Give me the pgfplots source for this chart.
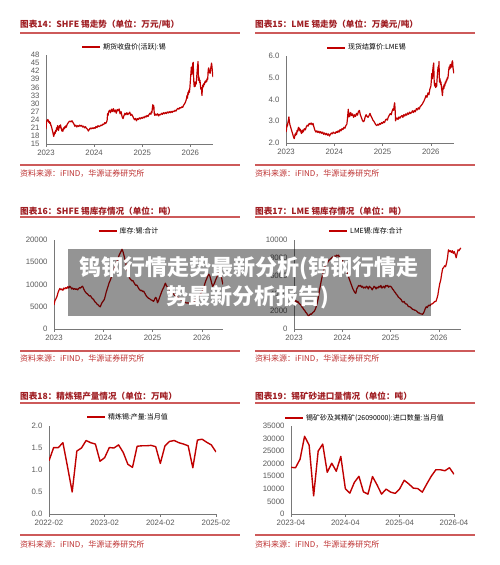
\documentclass[border=0pt]{standalone}
\usepackage{pgfplots}
\pgfplotsset{compat=1.18}
\usepackage{fontspec}
\setmainfont{Liberation Sans}
\newfontfamily\cjk{Noto Sans CJK SC}
\definecolor{linered}{RGB}{192,0,0}
\definecolor{titlered}{RGB}{160,30,35}
\definecolor{rulered}{RGB}{205,90,90}
\definecolor{srcred}{RGB}{190,50,50}
\definecolor{axgray}{RGB}{120,120,120}
\definecolor{tickgray}{RGB}{90,90,90}
\pgfplotsset{
  panel/.style={
    scale only axis,
    anchor=south west,
    axis x line*=bottom, axis y line*=left,
    axis line style={draw=axgray, line width=0.8pt},
    tick label style={font=\fontsize{7.8}{8}\selectfont, text=tickgray},
    /pgf/number format/assume math mode=true,
    ytick style={draw=none},
    xtick style={draw=axgray, line width=0.6pt},
    tick align=outside, major tick length=3pt,
    scaled ticks=false,
    legend style={draw=none, fill=none, font=\cjk\fontsize{7}{8}\selectfont, inner sep=0pt, anchor=center},
    legend cell align=left,
    legend image code/.code={\draw[#1, line width=2pt] (0pt,0pt) -- (18pt,0pt);},
    every axis plot post/.append style={line width=1.2pt, color=linered, line join=round, mark=none},
  }
}
\begin{document}
\begin{tikzpicture}[x=1pt,y=1pt]
\useasboundingbox[fill=white] (0,0) rectangle (500,565);

% ---------- titles / rules / sources ----------
\tikzset{ttl/.style={anchor=west, inner sep=0pt, text=titlered, font=\cjk\bfseries\fontsize{8.6}{9}\selectfont},
         src/.style={anchor=west, inner sep=0pt, text=srcred, font=\cjk\fontsize{8}{9}\selectfont}}
\node[ttl] at (20,540) {图表14：SHFE 锡走势（单位：万元/吨）};
\node[ttl] at (255,540) {图表15：LME 锡走势（单位：万美元/吨）};
\node[ttl] at (20,354) {图表16：SHFE 锡库存情况（单位：吨）};
\node[ttl] at (255,354) {图表17：LME 锡库存情况（单位：吨）};
\node[ttl] at (20,169) {图表18：精炼锡产量情况（单位：万吨）};
\node[ttl] at (255,169) {图表19：锡矿砂进口量情况（单位：吨）};
\foreach \yy in {532,348,162} {
  \draw[rulered, line width=1.6pt] (20,\yy) -- (240,\yy);
  \draw[rulered, line width=1.6pt] (255,\yy) -- (475,\yy);
}
\foreach \yy in {400,214,30} {
  \draw[rulered, line width=1.2pt] (20,\yy) -- (240,\yy);
  \draw[rulered, line width=1.2pt] (255,\yy) -- (475,\yy);
}
\foreach \yy in {391,206,20} {
  \node[src] at (20,\yy) {资料来源：iFIND，华源证券研究所};
  \node[src] at (255,\yy) {资料来源：iFIND，华源证券研究所};
}

% ---------- Panel 1: SHFE tin price ----------
\begin{axis}[panel, at={(46pt,421pt)}, width=167pt, height=89pt,
  xmin=0, xmax=3.47, ymin=15, ymax=48,
  ytick={15,18,...,48}, xtick={0,1,2,3}, xticklabels={2023,2024,2025,2026},
  legend style={at={(0.47,1.09)}}]
\addplot coordinates {(0.00,20.5) (0.01,22.8) (0.02,23.9) (0.03,23.6) (0.04,24.1) (0.05,23.5) (0.06,23.0) (0.07,23.4) (0.08,22.6) (0.09,22.9) (0.10,22.0) (0.11,21.6) (0.12,21.0) (0.13,20.2) (0.14,19.5) (0.15,18.6) (0.16,17.8) (0.17,18.5) (0.18,19.4) (0.19,18.9) (0.20,20.0) (0.21,19.6) (0.22,21.0) (0.23,20.3) (0.24,21.8) (0.25,20.6) (0.26,20.0) (0.27,21.2) (0.28,21.8) (0.29,21.0) (0.30,22.1) (0.31,21.3) (0.32,20.6) (0.33,19.8) (0.34,20.5) (0.35,19.7) (0.36,20.4) (0.37,21.0) (0.38,20.6) (0.39,21.4) (0.40,21.0) (0.41,21.7) (0.42,21.2) (0.44,22.3) (0.46,22.8) (0.48,23.3) (0.50,23.5) (0.52,23.2) (0.54,23.6) (0.56,23.0) (0.58,22.4) (0.60,21.6) (0.62,22.0) (0.64,21.3) (0.66,21.8) (0.68,21.5) (0.70,22.0) (0.72,21.6) (0.74,21.9) (0.76,21.3) (0.78,21.6) (0.80,21.0) (0.82,21.4) (0.84,20.8) (0.86,20.5) (0.88,19.8) (0.90,20.4) (0.92,20.9) (0.94,20.6) (0.96,21.0) (0.98,20.7) (1.00,21.1) (1.02,20.8) (1.04,21.5) (1.06,21.1) (1.08,21.8) (1.10,21.4) (1.12,21.6) (1.14,22.0) (1.16,21.8) (1.18,22.4) (1.20,22.2) (1.22,22.9) (1.24,22.6) (1.26,23.2) (1.27,23.8) (1.28,26.2) (1.29,25.6) (1.30,26.8) (1.32,27.5) (1.34,26.6) (1.36,27.9) (1.38,27.0) (1.40,28.1) (1.42,26.9) (1.44,27.6) (1.46,26.4) (1.48,27.8) (1.50,27.3) (1.52,28.0) (1.54,26.2) (1.56,27.0) (1.58,25.2) (1.60,24.4) (1.62,25.5) (1.64,26.4) (1.66,25.8) (1.68,26.6) (1.70,25.9) (1.72,26.3) (1.74,26.8) (1.76,25.6) (1.78,26.0) (1.80,25.4) (1.82,24.6) (1.84,24.0) (1.86,24.5) (1.88,23.6) (1.90,24.4) (1.92,24.1) (1.94,24.7) (1.96,24.3) (1.98,24.8) (2.00,24.5) (2.02,25.0) (2.04,24.7) (2.06,25.3) (2.08,25.0) (2.10,25.6) (2.12,25.2) (2.14,25.9) (2.16,26.4) (2.18,26.0) (2.19,27.0) (2.20,26.6) (2.21,28.2) (2.22,29.6) (2.23,28.0) (2.24,29.2) (2.25,26.3) (2.26,25.6) (2.28,26.1) (2.30,25.7) (2.32,26.2) (2.34,25.4) (2.36,26.0) (2.38,25.8) (2.40,26.4) (2.42,26.0) (2.44,26.6) (2.46,26.2) (2.48,26.7) (2.50,26.3) (2.52,26.9) (2.54,26.5) (2.56,27.0) (2.58,26.6) (2.60,27.1) (2.62,26.7) (2.64,27.2) (2.66,27.0) (2.68,27.5) (2.70,27.2) (2.72,27.8) (2.74,28.2) (2.76,27.9) (2.78,28.5) (2.80,28.3) (2.82,28.8) (2.84,28.6) (2.86,29.4) (2.88,29.9) (2.90,30.6) (2.92,31.8) (2.93,33.0) (2.94,32.0) (2.95,34.2) (2.96,33.4) (2.97,35.0) (2.98,34.2) (2.99,36.0) (3.00,38.5) (3.01,41.0) (3.02,43.5) (3.03,40.8) (3.04,42.6) (3.05,44.9) (3.06,45.3) (3.065,41.0) (3.07,38.4) (3.08,36.2) (3.09,37.9) (3.10,36.4) (3.11,38.0) (3.12,37.2) (3.13,39.5) (3.14,41.8) (3.15,44.0) (3.16,45.6) (3.165,41.5) (3.17,38.6) (3.18,39.8) (3.19,37.8) (3.20,38.6) (3.21,36.4) (3.22,35.2) (3.23,36.0) (3.24,33.0) (3.25,35.6) (3.26,36.9) (3.27,36.2) (3.28,37.4) (3.29,37.0) (3.30,37.9) (3.31,38.3) (3.32,37.8) (3.33,38.6) (3.34,38.2) (3.35,39.3) (3.36,39.0) (3.37,42.4) (3.38,43.2) (3.39,41.5) (3.40,42.3) (3.41,41.2) (3.42,42.8) (3.43,43.8) (3.44,45.0) (3.45,43.5) (3.46,41.0) (3.47,39.8)};
\addlegendentry{期货收盘价(活跃):锡}
\end{axis}

% ---------- Panel 2: LME tin price ----------
\begin{axis}[panel, at={(286pt,422pt)}, width=168pt, height=87pt,
  xmin=0, xmax=3.48, ymin=2, ymax=6,
  ytick={2,3,4,5,6}, yticklabel style={/pgf/number format/.cd, fixed, fixed zerofill, precision=1},
  xtick={0,1,2,3}, xticklabels={2023,2024,2025,2026},
  legend style={at={(0.482,1.095)}}]
\addplot coordinates {(0.00,2.50) (0.01,2.62) (0.02,2.85) (0.03,2.78) (0.04,2.95) (0.05,3.05) (0.06,3.20) (0.07,2.98) (0.08,2.85) (0.09,2.78) (0.10,2.70) (0.11,2.62) (0.12,2.55) (0.13,2.48) (0.14,2.40) (0.15,2.32) (0.16,2.25) (0.17,2.20) (0.18,2.30) (0.19,2.42) (0.20,2.35) (0.21,2.48) (0.22,2.40) (0.23,2.58) (0.24,2.52) (0.25,2.65) (0.26,2.72) (0.27,2.60) (0.28,2.68) (0.29,2.55) (0.30,2.62) (0.31,2.50) (0.32,2.44) (0.33,2.56) (0.34,2.48) (0.35,2.60) (0.36,2.52) (0.38,2.66) (0.40,2.60) (0.42,2.74) (0.44,2.82) (0.46,2.78) (0.48,2.90) (0.50,2.86) (0.52,2.92) (0.54,2.84) (0.56,2.90) (0.58,2.72) (0.60,2.58) (0.62,2.50) (0.64,2.56) (0.66,2.48) (0.68,2.54) (0.70,2.46) (0.72,2.52) (0.74,2.44) (0.76,2.50) (0.78,2.40) (0.80,2.46) (0.82,2.38) (0.84,2.44) (0.86,2.36) (0.88,2.42) (0.90,2.32) (0.92,2.40) (0.94,2.46) (0.96,2.42) (0.98,2.50) (1.00,2.46) (1.02,2.44) (1.04,2.52) (1.06,2.48) (1.08,2.56) (1.10,2.50) (1.12,2.62) (1.14,2.56) (1.16,2.66) (1.18,2.62) (1.20,2.72) (1.22,2.68) (1.24,2.80) (1.26,2.86) (1.27,3.05) (1.28,3.30) (1.29,3.55) (1.30,3.20) (1.31,3.38) (1.32,3.22) (1.34,3.40) (1.36,3.26) (1.38,3.34) (1.40,3.18) (1.42,3.30) (1.44,3.22) (1.46,3.36) (1.48,3.28) (1.50,3.44) (1.52,3.50) (1.54,3.30) (1.56,3.18) (1.58,3.05) (1.60,2.98) (1.62,3.02) (1.64,3.20) (1.66,3.30) (1.68,3.22) (1.70,3.18) (1.72,3.26) (1.74,3.36) (1.76,3.24) (1.78,3.16) (1.80,3.05) (1.82,3.00) (1.84,2.92) (1.86,2.84) (1.88,2.80) (1.90,2.86) (1.92,2.82) (1.94,2.90) (1.96,2.86) (1.98,2.94) (2.00,2.90) (2.02,2.98) (2.04,2.94) (2.06,3.05) (2.08,3.10) (2.10,3.05) (2.12,3.20) (2.14,3.28) (2.16,3.35) (2.18,3.30) (2.20,3.48) (2.22,3.58) (2.23,3.50) (2.24,3.72) (2.25,3.85) (2.26,3.55) (2.27,3.02) (2.28,3.10) (2.30,3.15) (2.32,3.08) (2.34,3.20) (2.36,3.14) (2.38,3.22) (2.40,3.26) (2.42,3.18) (2.44,3.30) (2.46,3.24) (2.48,3.34) (2.50,3.28) (2.52,3.38) (2.54,3.32) (2.56,3.42) (2.58,3.36) (2.60,3.40) (2.62,3.48) (2.64,3.40) (2.66,3.50) (2.68,3.44) (2.70,3.58) (2.72,3.52) (2.74,3.62) (2.76,3.56) (2.78,3.68) (2.80,3.72) (2.82,3.78) (2.84,3.86) (2.86,3.94) (2.88,4.05) (2.90,4.18) (2.92,4.10) (2.94,4.30) (2.96,4.22) (2.98,4.48) (3.00,4.60) (3.01,4.85) (3.02,5.20) (3.03,4.95) (3.04,5.35) (3.05,5.55) (3.06,5.68) (3.065,5.15) (3.07,4.80) (3.08,4.62) (3.09,4.75) (3.10,4.55) (3.11,4.70) (3.12,4.60) (3.13,4.95) (3.14,5.25) (3.15,5.50) (3.16,5.30) (3.17,5.75) (3.175,5.05) (3.18,4.80) (3.19,4.95) (3.20,4.70) (3.21,4.80) (3.22,4.55) (3.23,4.40) (3.24,4.18) (3.25,4.45) (3.26,4.62) (3.27,4.50) (3.28,4.70) (3.29,4.62) (3.30,4.80) (3.31,4.75) (3.32,4.90) (3.33,4.85) (3.34,5.00) (3.35,4.95) (3.36,5.10) (3.37,5.35) (3.38,5.50) (3.39,5.40) (3.40,5.60) (3.41,5.45) (3.42,5.62) (3.43,5.50) (3.44,5.72) (3.45,5.78) (3.46,5.45) (3.47,5.30) (3.48,5.20)};
\addlegendentry{现货结算价:LME锡}
\end{axis}

% ---------- Panel 3: SHFE inventory ----------
\begin{axis}[panel, at={(54pt,236pt)}, width=169pt, height=89pt,
  xmin=0, xmax=3.43, ymin=0, ymax=20000,
  ytick={0,5000,10000,15000,20000}, yticklabel style={/pgf/number format/.cd, fixed, 1000 sep={}},
  xtick={0,1,2,3}, xticklabels={2023,2024,2025,2026},
  legend style={at={(0.444,1.10)}}]
\addplot coordinates {(0.00,5400) (0.02,6400) (0.04,6800) (0.06,7300) (0.08,8100) (0.10,8700) (0.12,9100) (0.14,8800) (0.16,9000) (0.18,8700) (0.20,9200) (0.22,9000) (0.24,9300) (0.26,9100) (0.28,9500) (0.30,9200) (0.32,9600) (0.34,9400) (0.36,9000) (0.38,9200) (0.40,8900) (0.42,9100) (0.44,8900) (0.46,9000) (0.48,8800) (0.50,9100) (0.52,9300) (0.54,9200) (0.56,9500) (0.58,9600) (0.60,9100) (0.62,8600) (0.64,8300) (0.66,8000) (0.68,7900) (0.70,7600) (0.72,7400) (0.74,7500) (0.76,7100) (0.78,6800) (0.80,6700) (0.82,6300) (0.84,6000) (0.86,5800) (0.88,5500) (0.90,5400) (0.92,5100) (0.94,5000) (0.96,5600) (0.98,6000) (1.00,6300) (1.02,6600) (1.04,7400) (1.06,8300) (1.08,9000) (1.10,9700) (1.12,10400) (1.14,10900) (1.16,11500) (1.18,12300) (1.20,12800) (1.22,13300) (1.24,14100) (1.26,14700) (1.28,15300) (1.30,15900) (1.32,16500) (1.34,17000) (1.36,17400) (1.38,17900) (1.40,17400) (1.42,16500) (1.44,15600) (1.46,14600) (1.48,13500) (1.50,12600) (1.52,11900) (1.54,11300) (1.56,11100) (1.58,10800) (1.60,10900) (1.62,10500) (1.64,10100) (1.66,9800) (1.68,9900) (1.70,9500) (1.72,9100) (1.74,8800) (1.76,8600) (1.78,8700) (1.80,8400) (1.82,8500) (1.84,8100) (1.86,7700) (1.88,7300) (1.90,7100) (1.92,6900) (1.94,6800) (1.96,6600) (1.98,6500) (2.00,6400) (2.02,6200) (2.04,6600) (2.06,7100) (2.08,6900) (2.10,5900) (2.12,6300) (2.14,7000) (2.16,7600) (2.18,8200) (2.20,8800) (2.22,9200) (2.24,9700) (2.26,10300) (2.28,9800) (2.30,9400) (2.32,9100) (2.34,8900) (2.36,8600) (2.38,8400) (2.40,8200) (2.42,8000) (2.44,7700) (2.46,7500) (2.48,7400) (2.50,7300) (2.52,7000) (2.54,6900) (2.56,6600) (2.58,6500) (2.60,6400) (2.62,6200) (2.64,6100) (2.66,6000) (2.68,5900) (2.70,5800) (2.72,5900) (2.74,5800) (2.76,5700) (2.78,5900) (2.80,5800) (2.82,6000) (2.84,6200) (2.86,6400) (2.88,6700) (2.90,7000) (2.92,7300) (2.94,7500) (2.96,7700) (2.98,8000) (3.00,8300) (3.02,8800) (3.04,9400) (3.06,10100) (3.08,10800) (3.10,11300) (3.12,11900) (3.14,12300) (3.16,12000) (3.18,11200) (3.20,10300) (3.22,9600) (3.24,9900) (3.26,10400) (3.28,11000) (3.30,11500) (3.32,12100) (3.34,12600) (3.36,12300) (3.38,12700) (3.40,11600) (3.42,10400) (3.43,10000)};
\addlegendentry{库存:锡:合计}
\end{axis}

% ---------- Panel 4: LME inventory ----------
\begin{axis}[panel, at={(294pt,236pt)}, width=167pt, height=89pt,
  xmin=0, xmax=3.46, ymin=0, ymax=10000,
  ytick={0,2000,4000,6000,8000,10000}, yticklabel style={/pgf/number format/.cd, fixed, 1000 sep={}},
  xtick={0,1,2,3}, xticklabels={2023,2024,2025,2026},
  legend style={at={(0.434,1.10)}}]
\addplot coordinates {(0.00,3000) (0.02,3100) (0.04,3200) (0.06,3000) (0.08,3100) (0.10,2900) (0.12,2800) (0.14,2700) (0.16,2500) (0.18,2400) (0.20,2200) (0.22,2100) (0.24,1900) (0.26,1800) (0.28,1600) (0.30,1500) (0.32,1550) (0.34,1700) (0.36,1650) (0.38,1800) (0.40,1900) (0.42,2000) (0.44,2200) (0.46,2500) (0.48,2900) (0.50,3400) (0.52,4100) (0.54,4700) (0.56,5300) (0.58,5800) (0.60,6300) (0.62,6700) (0.64,7000) (0.66,7200) (0.68,7400) (0.70,7500) (0.72,7700) (0.74,7800) (0.76,7900) (0.78,8000) (0.80,8100) (0.82,8000) (0.84,8200) (0.86,8100) (0.88,8300) (0.90,8200) (0.92,8300) (0.94,8100) (0.96,8000) (0.98,7900) (1.00,7800) (1.02,7500) (1.04,7200) (1.06,6900) (1.08,6700) (1.10,6400) (1.12,6000) (1.14,5700) (1.16,5400) (1.18,5100) (1.20,4800) (1.22,4500) (1.24,4300) (1.26,4100) (1.28,4000) (1.30,4500) (1.32,4700) (1.34,4900) (1.36,4800) (1.38,4900) (1.40,4700) (1.42,4800) (1.44,4600) (1.46,4700) (1.48,4600) (1.50,4800) (1.52,4700) (1.54,4500) (1.56,4800) (1.58,4700) (1.60,4600) (1.62,4400) (1.64,4600) (1.66,4800) (1.68,4700) (1.70,4500) (1.72,4700) (1.74,4600) (1.76,4800) (1.78,4700) (1.80,4900) (1.82,4600) (1.84,4700) (1.86,4800) (1.88,4600) (1.90,4900) (1.92,4800) (1.94,4900) (1.96,4700) (1.98,4800) (2.00,4800) (2.02,4700) (2.04,4500) (2.06,4400) (2.08,4200) (2.10,4100) (2.12,3900) (2.14,3800) (2.16,3600) (2.18,3500) (2.20,3400) (2.22,3300) (2.24,3100) (2.26,3000) (2.28,3100) (2.30,2900) (2.32,2800) (2.34,2800) (2.36,2600) (2.38,2500) (2.40,2500) (2.42,2400) (2.44,2300) (2.46,2200) (2.48,2200) (2.50,2100) (2.52,2100) (2.54,2000) (2.56,1900) (2.58,1800) (2.60,1800) (2.62,1700) (2.64,1700) (2.66,1650) (2.68,1750) (2.70,2000) (2.72,2300) (2.74,2500) (2.76,2400) (2.78,2600) (2.80,2700) (2.82,2600) (2.84,2800) (2.86,2800) (2.88,2900) (2.90,3000) (2.92,3100) (2.94,3100) (2.96,3400) (2.98,3800) (3.00,4500) (3.02,5100) (3.04,5500) (3.06,6200) (3.08,6800) (3.10,6900) (3.12,7100) (3.14,7000) (3.16,7400) (3.18,8000) (3.20,8900) (3.22,8700) (3.24,8800) (3.26,8600) (3.28,8800) (3.30,8500) (3.32,8700) (3.34,8400) (3.36,8000) (3.38,8500) (3.40,8900) (3.42,8800) (3.44,9000) (3.46,9100)};
\addlegendentry{LME锡:库存:合计}
\end{axis}

% ---------- Panel 5: refined tin output ----------
\begin{axis}[panel, at={(49pt,51pt)}, width=167pt, height=88pt,
  xmin=0, xmax=36, ymin=0, ymax=2,
  ytick={0,0.5,1,1.5,2}, yticklabel style={/pgf/number format/.cd, fixed, fixed zerofill, precision=1},
  xtick={0,12,24,36}, xticklabels={2022-02,2023-02,2024-02,2025-02},
  every axis plot post/.append style={line width=1.4pt},
  legend style={at={(0.473,1.10)}}]
\addplot coordinates {(0,1.21) (1,1.51) (2,1.51) (3,1.62) (4,1.07) (5,0.50) (6,1.43) (7,1.50) (8,1.67) (9,1.62) (10,1.59) (11,1.20) (12,1.28) (13,1.51) (14,1.50) (15,1.57) (16,1.40) (17,1.13) (18,1.06) (19,1.54) (20,1.55) (21,1.55) (22,1.56) (23,1.53) (24,1.15) (25,1.55) (26,1.65) (27,1.67) (28,1.62) (29,1.59) (30,1.55) (31,1.05) (32,1.68) (33,1.70) (34,1.63) (35,1.57) (36,1.41)};
\addlegendentry{精炼锡:产量:当月值}
\end{axis}

% ---------- Panel 6: tin ore imports ----------
\begin{axis}[panel, at={(291pt,51pt)}, width=163pt, height=88pt,
  xmin=0, xmax=36, ymin=0, ymax=35000,
  ytick={0,5000,...,35000}, yticklabel style={/pgf/number format/.cd, fixed, 1000 sep={}},
  xtick={0,12,24,36}, xticklabels={2023-04,2024-04,2025-04,2026-04},
  every axis plot post/.append style={line width=1.4pt},
  legend style={at={(0.454,1.09)}}]
\addplot coordinates {(0,18550) (1,18400) (2,21800) (3,30900) (4,27400) (5,7200) (6,25000) (7,27800) (8,16600) (9,20200) (10,17000) (11,22900) (12,10100) (13,8300) (14,12600) (15,15000) (16,8800) (17,7900) (18,14900) (19,11600) (20,7900) (21,9900) (22,8700) (23,8200) (24,10000) (25,13400) (26,12000) (27,10300) (28,10100) (29,8700) (30,12000) (31,15100) (32,17600) (33,17600) (34,17200) (35,18400) (36,15800)};
\addlegendentry{锡矿砂及其精矿(26090000):进口数量:当月值}
\end{axis}

% ---------- watermark overlay ----------
\fill[black, fill opacity=0.42] (68,249) rectangle (431,316);
\node[text=white, font=\cjk\bfseries\fontsize{22}{23}\selectfont, inner sep=0pt] at (249,297) {钨钢行情走势最新分析(钨钢行情走};
\node[text=white, font=\cjk\bfseries\fontsize{22}{23}\selectfont, inner sep=0pt] at (248,268) {势最新分析报告)};
\end{tikzpicture}
\end{document}
